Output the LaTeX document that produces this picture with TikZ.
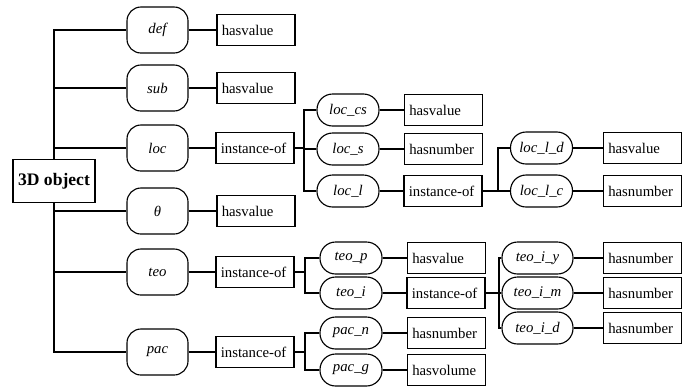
\documentclass[tikz,border=0pt]{standalone}
\usepackage{fontspec}
\setmainfont{Liberation Serif}
\usetikzlibrary{positioning}

\begin{document}
\begin{tikzpicture}[x=0.025cm, y=-0.025cm, line width=0.8pt,
    font=\fontsize{10.5}{12}\selectfont,
    attr/.style={draw, rounded corners=0.35cm, minimum width=1.525cm, minimum height=1.15cm, font=\fontsize{10.5}{12}\selectfont\itshape},
    subattr/.style={draw, rounded corners=0.39cm, minimum width=1.55cm, minimum height=0.8cm, font=\fontsize{10.5}{12}\selectfont\itshape},
    rel/.style={draw, text width=1.71cm, align=left, inner xsep=0.12cm, minimum height=0.775cm}]
    \useasboundingbox (0,0) rectangle (688,391);
    % root
    \node[draw, minimum width=2.05cm, minimum height=1.075cm, font=\fontsize{12.5}{14}\selectfont\bfseries] (obj) at (54,181) {3D object};
    % first level
    \foreach \n/\t/\y in {def/def/30, sub/sub/88, the/θ/211} {
        \node[attr] (\n) at (157.5,\y) {\t};
        \node[rel] (\n-v) at (256,\y) {hasvalue};
        \draw (\n) -- (\n-v);
    }
    \foreach \n/\y in {loc/148, teo/272, pac/352} {
        \node[attr] (\n) at (157.5,\y) {\n};
        \node[rel] (\n-inst) at (255,\y) {instance-of};
        \draw (\n) -- (\n-inst);
    }
    \foreach \n in {def,sub,loc} \draw (obj.north) |- (\n.west);
    \foreach \n in {the,teo,pac} \draw (obj.south) |- (\n.west);
    % second level
    \foreach \n/\t/\x/\y/\r in {loccs/loc\_cs/348/110/hasvalue, locs/loc\_s/348/149/hasnumber,
            teop/teo\_p/351/258/hasvalue, pacn/pac\_n/351/333/hasnumber, pacg/pac\_g/351/370/hasvolume} {
        \node[subattr] (\n) at (\x,\y) {\t};
        \node[rel] (\n-v) at (\x+95.5,\y) {\r};
        \draw (\n) -- (\n-v);
    }
    \foreach \n/\t/\x/\y in {locl/loc\_l/348/191, teoi/teo\_i/351/293} {
        \node[subattr] (\n) at (\x,\y) {\t};
        \node[rel] (\n-inst) at (\x+95,\y) {instance-of};
        \draw (\n) -- (\n-inst);
    }
    % third level
    \foreach \n/\t/\y/\r in {locld/loc\_l\_d/148/hasvalue, loclc/loc\_l\_c/191/hasnumber} {
        \node[subattr] (\n) at (541.5,\y) {\t};
        \node[rel] (\n-v) at (642.5,\y) {\r};
        \draw (\n) -- (\n-v);
    }
    \foreach \n/\t/\y in {teoiy/teo\_i\_y/258, teoim/teo\_i\_m/293, teoid/teo\_i\_d/328} {
        \node[subattr, minimum width=1.775cm] (\n) at (537.5,\y) {\t};
        \node[rel] (\n-v) at (642.5,\y) {hasnumber};
        \draw (\n) -- (\n-v);
    }
    % branches
    \coordinate (jloc) at (304,148);
    \coordinate (jlocl) at (498,191);
    \coordinate (jteo) at (305,272);
    \coordinate (jteoi) at (499,293);
    \coordinate (jpac) at (305,352);
    \draw (loc-inst) -- (jloc);
    \foreach \c in {loccs,locs,locl} \draw (jloc) |- (\c.west);
    \draw (locl-inst) -- (jlocl);
    \foreach \c in {locld,loclc} \draw (jlocl) |- (\c.west);
    \draw (teo-inst) -- (jteo);
    \foreach \c in {teop,teoi} \draw (jteo) |- (\c.west);
    \draw (teoi-inst) -- (jteoi);
    \foreach \c in {teoiy,teoim,teoid} \draw (jteoi) |- (\c.west);
    \draw (pac-inst) -- (jpac);
    \foreach \c in {pacn,pacg} \draw (jpac) |- (\c.west);
\end{tikzpicture}
\end{document}
